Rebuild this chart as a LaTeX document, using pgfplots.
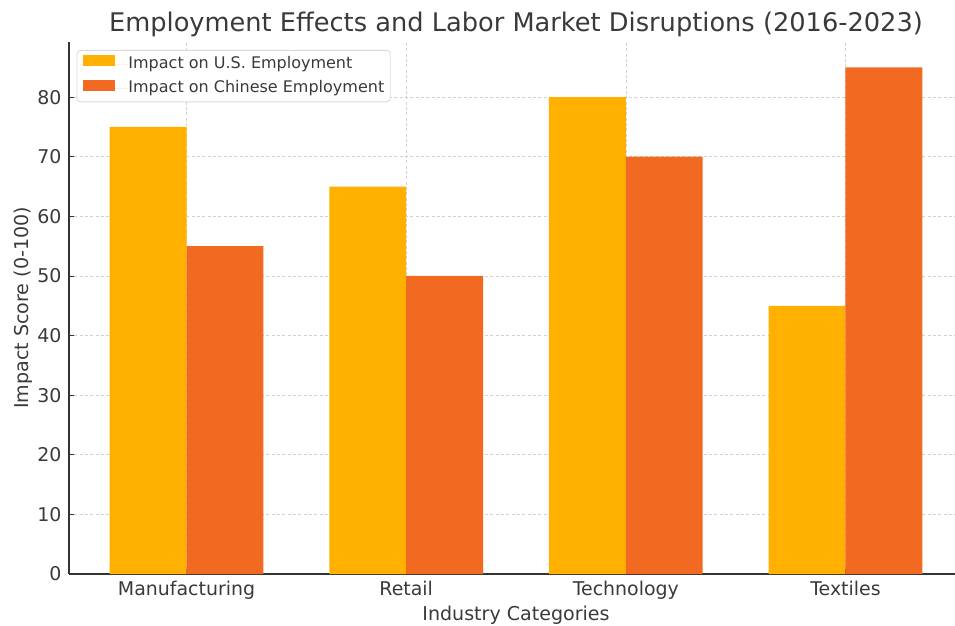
\documentclass[border=0pt]{standalone}
\usepackage{pgfplots}
\pgfplotsset{compat=1.18}
\usepackage{fontspec}
\setmainfont{DejaVu Sans}
\definecolor{usc}{HTML}{FFB000}
\definecolor{cnc}{HTML}{F26A22}
\definecolor{txt}{HTML}{3A3A3A}
\begin{document}
\begin{tikzpicture}
\useasboundingbox (-51.75pt,-38.25pt) rectangle (664.5pt,430.5pt);
\begin{axis}[
  at={(0,0)}, anchor=south west,
  scale only axis, width=670.5pt, height=399pt,
  xmin=-0.535, xmax=3.535, ymin=0, ymax=89.25,
  axis x line*=bottom, axis y line*=left,
  axis line style={black!80, line width=0.8pt},
  xtick={0,1,2,3},
  xticklabels={Manufacturing,Retail,Technology,Textiles},
  ytick={0,10,...,80},
  tick align=inside, major tick length=3.5pt,
  tick style={black!80, line width=0.6pt},
  grid=major,
  major grid style={gray!35, dash pattern=on 2.2pt off 1.8pt, line width=0.5pt},
  /pgf/number format/assume math mode=true,
  tick label style={font=\fontsize{14.2}{16}\selectfont, text=txt},
  xticklabel style={anchor=base, yshift=-15.75pt, inner sep=0pt},
  yticklabel style={anchor=east, xshift=-5.5pt, inner sep=0pt},
  title={Employment Effects and Labor Market Disruptions (2016-2023)},
  title style={at={(axis description cs:0.5,1)}, anchor=base, yshift=1.7pt, inner sep=0pt,
    font=\fontsize{19.25}{22}\selectfont, text=txt},
  xlabel={Industry Categories},
  xlabel style={at={(axis description cs:0.5,0)}, anchor=base, yshift=-35pt, inner sep=0pt,
    font=\fontsize{14.3}{16}\selectfont, text=txt},
  ylabel={Impact Score (0-100)},
  ylabel style={at={(axis description cs:-0.0403,0.5)}, anchor=south, inner sep=0pt,
    font=\fontsize{14.3}{16}\selectfont, text=txt},
  legend cell align=left,
  legend style={at={(0.0086,0.985)}, anchor=north west, draw=black!15, line width=0.6pt,
    rounded corners=2.5pt, fill=white,
    font=\fontsize{12.0}{14}\selectfont, text=txt,
    inner xsep=4.5pt, inner ysep=3.75pt, row sep=5.8pt,
    nodes={inner sep=0pt, text height=9pt, text depth=3pt}},
  legend image code/.code={\path[#1, draw=none, sharp corners] (0pt,-1.6pt) rectangle (24pt,6.65pt); \path (0pt,0pt) -- (34pt,0pt);},
]
\addplot[ybar, bar width=0.35, bar shift=-0.175, fill=usc, draw=none]
  coordinates {(0,75) (1,65) (2,80) (3,45)};
\addlegendentry{Impact on U.S. Employment}
\addplot[ybar, bar width=0.35, bar shift=0.175, fill=cnc, draw=none]
  coordinates {(0,55) (1,50) (2,70) (3,85)};
\addlegendentry{Impact on Chinese Employment}
\end{axis}
\end{tikzpicture}
\end{document}
